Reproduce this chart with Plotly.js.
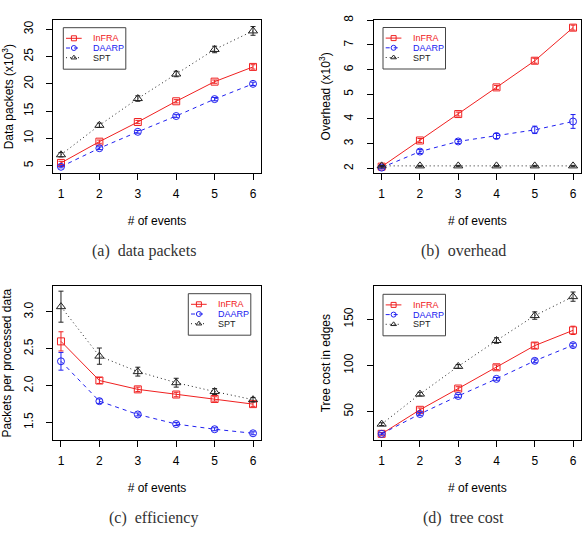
<!DOCTYPE html>
<html><head><meta charset="utf-8">
<script src="https://cdn.plot.ly/plotly-3.0.1.min.js"></script>
<style>html,body{margin:0;padding:0;background:#fff}#chart{width:588px;height:544px}</style>
</head><body><div id="chart"></div>
<script>
// ---- data ----
const events = [1, 2, 3, 4, 5, 6];
const seriesNames = ['InFRA', 'DAARP', 'SPT'];

const packetsInFRA = [5.5, 9.4, 13.0, 16.8, 20.4, 23.1];
const packetsDAARP = [4.8, 8.2, 11.2, 14.1, 17.2, 20.0];
const packetsSPT   = [7.0, 12.4, 17.3, 21.8, 26.3, 29.7];
const packetsInFRAErr = [0.3, 0.3, 0.3, 0.3, 0.3, 0.4];
const packetsDAARPErr = [0.2, 0.25, 0.25, 0.25, 0.3, 0.3];
const packetsSPTErr   = [0.4, 0.4, 0.5, 0.5, 0.6, 0.8];

const overheadInFRA = [2.07, 3.13, 4.2, 5.28, 6.36, 7.7];
const overheadDAARP = [2.03, 2.68, 3.09, 3.31, 3.56, 3.9];
const overheadSPT   = [2.1, 2.1, 2.1, 2.1, 2.1, 2.1];
const overheadInFRAErr = [0.05, 0.08, 0.08, 0.08, 0.1, 0.1];
const overheadDAARPErr = [0.05, 0.08, 0.08, 0.1, 0.15, 0.28];
const overheadSPTErr   = [0.02, 0.02, 0.02, 0.02, 0.02, 0.02];

const efficiencyInFRA = [2.60, 2.07, 1.95, 1.88, 1.82, 1.75];
const efficiencyDAARP = [2.33, 1.79, 1.61, 1.48, 1.41, 1.355];
const efficiencySPT   = [3.07, 2.40, 2.19, 2.04, 1.92, 1.81];
const efficiencyInFRAErr = [0.13, 0.04, 0.03, 0.03, 0.03, 0.03];
const efficiencyDAARPErr = [0.12, 0.03, 0.02, 0.02, 0.02, 0.02];
const efficiencySPTErr   = [0.21, 0.11, 0.06, 0.06, 0.04, 0.03];

const treeInFRA = [26, 52, 75, 98, 121.5, 138];
const treeDAARP = [26, 47.5, 67, 85.5, 105, 122];
const treeSPT   = [36.5, 69, 99, 127, 154, 174.5];
const treeInFRAErr = [1.5, 2, 2, 2.5, 3, 4.5];
const treeDAARPErr = [1, 1.5, 1.5, 1.5, 2, 2];
const treeSPTErr   = [1.5, 2, 2, 3, 4, 5];

const yTitles = ['Data packets (x10<sup>3</sup>)', 'Overhead (x10<sup>3</sup>)', 'Packets per processed data', 'Tree cost in edges'];
const xTitle = '# of events';
const xTickLabels = ['1', '2', '3', '4', '5', '6'];
const captions = ['(a)  data packets', '(b)  overhead', '(c)  efficiency', '(d)  tree cost'];
const yTicks = [[5, 10, 15, 20, 25, 30], [2, 3, 4, 5, 6, 7, 8], [1.5, 2.0, 2.5, 3.0], [50, 100, 150]];
const yTickLabels = [['5', '10', '15', '20', '25', '30'], ['2', '3', '4', '5', '6', '7', '8'], ['1.5', '2.0', '2.5', '3.0'], ['50', '100', '150']];

// ---- layout/style ----
const W = 588, H = 544;
const colors = ['#f02020', '#2020f0', '#222222'];
const dashes = ['solid', '4px,4px', '1px,3px'];
const symbols = ['square-open', 'circle-open', 'triangle-up-open'];
const panelData = [
  [[packetsInFRA, packetsInFRAErr], [packetsDAARP, packetsDAARPErr], [packetsSPT, packetsSPTErr]],
  [[overheadInFRA, overheadInFRAErr], [overheadDAARP, overheadDAARPErr], [overheadSPT, overheadSPTErr]],
  [[efficiencyInFRA, efficiencyInFRAErr], [efficiencyDAARP, efficiencyDAARPErr], [efficiencySPT, efficiencySPTErr]],
  [[treeInFRA, treeInFRAErr], [treeDAARP, treeDAARPErr], [treeSPT, treeSPTErr]]
];
// plot boxes in px: [left, top, right, bottom]
const boxes = [[53.3, 20, 260.7, 173.3], [374, 19.5, 580.7, 173.3], [53.3, 286, 260.7, 440.3], [374, 286, 580.7, 440.3]];
const yRanges = [[3.6, 31.7], [1.8, 8.03], [1.26, 3.35], [19, 186]];
const legendPos = [[63.3, 27.7], [383, 27.5], [188.3, 293.7], [383, 294.3]];
const captionPos = [[144, 250.5], [463.5, 250.5], [153.5, 518], [463.5, 518]];

const font = 'Liberation Sans, Arial, sans-serif';
const traces = [];
const layout = {
  width: W, height: H, margin: {l: 0, r: 0, t: 0, b: 0},
  paper_bgcolor: '#fff', plot_bgcolor: 'rgba(0,0,0,0)',
  showlegend: false, font: {family: font, size: 12, color: '#000'},
  annotations: [], shapes: []
};

panelData.forEach((series, p) => {
  const n = p + 1;
  const sfx = n === 1 ? '' : String(n);
  const b = boxes[p];
  series.forEach(([vals, errs], s) => {
    traces.push({
      type: 'scatter', mode: 'lines+markers', name: seriesNames[s],
      x: events, y: vals, xaxis: 'x' + sfx, yaxis: 'y' + sfx,
      line: {color: colors[s], width: 1, dash: dashes[s]},
      marker: {symbol: symbols[s], size: s === 2 ? 8 : 7, color: colors[s], line: {width: 1, color: colors[s]}},
      error_y: {type: 'data', array: errs, visible: true, color: colors[s], thickness: 1, width: 2.5},
      hoverinfo: 'skip', cliponaxis: false
    });
  });
  const common = {showline: true, mirror: true, linecolor: '#000', linewidth: 1, ticks: 'outside', ticklen: 6,
    tickcolor: '#000', tickwidth: 1, showgrid: false, zeroline: false, tickfont: {size: 12, family: font}};
  layout['xaxis' + sfx] = Object.assign({}, common, {
    domain: [b[0] / W, b[2] / W], anchor: 'y' + sfx, range: [0.8, 6.2], ticklabelstandoff: 3,
    tickmode: 'array', tickvals: events, ticktext: xTickLabels,
    title: {text: xTitle, font: {size: 12, family: font}, standoff: 16}
  });
  layout['yaxis' + sfx] = Object.assign({}, common, {
    domain: [1 - b[3] / H, 1 - b[1] / H], anchor: 'x' + sfx, range: yRanges[p], ticklabelstandoff: 9,
    tickmode: 'array', tickvals: yTicks[p], ticktext: yTickLabels[p], tickangle: -90,
    title: {text: yTitles[p], font: {size: 12, family: font}, standoff: 8}
  });
  // caption
  layout.annotations.push({xref: 'paper', yref: 'paper', x: captionPos[p][0] / W, y: 1 - captionPos[p][1] / H,
    xanchor: 'center', yanchor: 'middle', showarrow: false, text: captions[p],
    font: {family: 'Liberation Serif, Times New Roman, serif', size: 16, color: '#333'}});
  // legend (drawn on overlay pixel axis)
  const [lx, ly] = legendPos[p];
  layout.shapes.push({type: 'rect', xref: 'x5', yref: 'y5', x0: lx, x1: lx + 62.5, y0: ly, y1: ly + 41.5,
    line: {color: '#444', width: 1}, fillcolor: 'rgba(0,0,0,0)'});
  seriesNames.forEach((name, s) => {
    const ry = ly + 10.6 + s * 9.7;
    traces.push({type: 'scatter', mode: 'lines', x: [lx + 2.7, lx + 18.4], y: [ry, ry], xaxis: 'x5', yaxis: 'y5',
      line: {color: colors[s], width: 1, dash: dashes[s]}, hoverinfo: 'skip', showlegend: false});
    traces.push({type: 'scatter', mode: 'markers', x: [lx + 10.6], y: [ry], xaxis: 'x5', yaxis: 'y5',
      marker: {symbol: symbols[s], size: 5, color: colors[s], line: {width: 1, color: colors[s]}}, hoverinfo: 'skip', showlegend: false});
    layout.annotations.push({xref: 'x5', yref: 'y5', x: lx + 27.5, y: ry, xanchor: 'left', yanchor: 'middle',
      showarrow: false, text: name, font: {family: font, size: 9, color: colors[s]}});
  });
});
layout.xaxis5 = {domain: [0, 1], range: [0, W], visible: false, anchor: 'y5', fixedrange: true};
layout.yaxis5 = {domain: [0, 1], range: [H, 0], visible: false, anchor: 'x5', fixedrange: true};

Plotly.newPlot('chart', traces, layout, {staticPlot: true});
</script></body></html>
